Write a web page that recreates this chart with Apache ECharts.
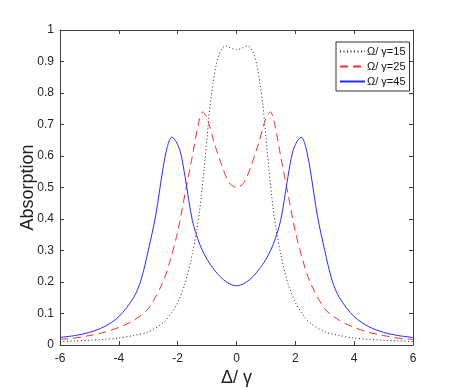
<!DOCTYPE html>
<html>
<head>
<meta charset="utf-8">
<script src="https://cdn.jsdelivr.net/npm/echarts@6/dist/echarts.min.js"></script>
<style>
  html, body { margin: 0; padding: 0; background: #fff; }
  #main { width: 457px; height: 388px; }
</style>
</head>
<body>
<div id="main"></div>
<script>
// values
const xTicks = [-6, -4, -2, 0, 2, 4, 6];
const yTicks = [0, 0.1, 0.2, 0.3, 0.4, 0.5, 0.6, 0.7, 0.8, 0.9, 1];

const names = ["Ω/ γ=15", "Ω/ γ=25", "Ω/ γ=45"];

const x15 = [-6, -5.5, -5, -4.5, -4, -3.5, -3, -2.5, -2.25, -2, -1.75, -1.5, -1.35, -1.25, -1.1, -1, -0.9, -0.8, -0.7, -0.6, -0.5, -0.37, -0.2, 0,
             0.2, 0.37, 0.5, 0.6, 0.7, 0.8, 0.9, 1, 1.1, 1.25, 1.35, 1.5, 1.75, 2, 2.25, 2.5, 3, 3.5, 4, 4.5, 5, 5.5, 6];
const y15 = [0.011, 0.013, 0.015, 0.018, 0.022, 0.03, 0.042, 0.07, 0.097, 0.135, 0.195, 0.29, 0.365, 0.43, 0.56, 0.66, 0.76, 0.83, 0.885, 0.92, 0.94, 0.95, 0.943, 0.937,
             0.943, 0.95, 0.94, 0.92, 0.885, 0.83, 0.76, 0.66, 0.56, 0.43, 0.365, 0.29, 0.195, 0.135, 0.097, 0.07, 0.042, 0.03, 0.022, 0.018, 0.015, 0.013, 0.011];

const x25 = [-6, -5.5, -5, -4.5, -4, -3.5, -3, -2.5, -2.25, -2, -1.75, -1.5, -1.3, -1.15, -1, -0.75, -0.5, -0.25, 0,
             0.25, 0.5, 0.75, 1, 1.15, 1.3, 1.5, 1.75, 2, 2.25, 2.5, 3, 3.5, 4, 4.5, 5, 5.5, 6];
const y25 = [0.018, 0.022, 0.03, 0.04, 0.056, 0.078, 0.115, 0.2, 0.27, 0.36, 0.48, 0.6, 0.7, 0.74, 0.72, 0.64, 0.57, 0.515, 0.5,
             0.515, 0.57, 0.64, 0.72, 0.74, 0.7, 0.6, 0.48, 0.36, 0.27, 0.2, 0.115, 0.078, 0.056, 0.04, 0.03, 0.022, 0.018];

const x45 = [-6, -5.5, -5, -4.5, -4, -3.5, -3.25, -3, -2.75, -2.5, -2.35, -2.2, -2.05, -1.9, -1.75, -1.5, -1.25, -1, -0.75, -0.5, -0.25, 0,
             0.25, 0.5, 0.75, 1, 1.25, 1.5, 1.75, 1.9, 2.05, 2.2, 2.35, 2.5, 2.75, 3, 3.25, 3.5, 4, 4.5, 5, 5.5, 6];
const y45 = [0.024, 0.03, 0.04, 0.058, 0.09, 0.15, 0.205, 0.3, 0.41, 0.56, 0.63, 0.66, 0.645, 0.61, 0.535, 0.395, 0.32, 0.272, 0.238, 0.212, 0.195, 0.188,
             0.195, 0.212, 0.238, 0.272, 0.32, 0.395, 0.535, 0.61, 0.645, 0.66, 0.63, 0.56, 0.41, 0.3, 0.205, 0.15, 0.09, 0.058, 0.04, 0.03, 0.024];

const pairs = (xs, ys) => xs.map((x, i) => [x, ys[i]]);

const chart = echarts.init(document.getElementById("main"));
const font = "Liberation Sans, Arial, sans-serif";
const frame = "#404040";

const tickAxis = {
    axisLine: { show: true, onZero: false, lineStyle: { color: frame, width: 1 } },
    axisTick: { show: true, inside: true, length: 4, lineStyle: { color: frame } },
    splitLine: { show: false },
};

chart.setOption({
    animation: false,
    backgroundColor: "#fff",
    grid: { left: 60, right: 44, top: 30, bottom: 43, outerBoundsMode: "none", containLabel: false },
    legend: {
        orient: "vertical",
        left: 336,
        top: 42,
        data: names,
        itemWidth: 25,
        itemHeight: 8,
        itemGap: 4,
        padding: [4, 4, 4, 3],
        borderColor: "#333",
        borderWidth: 1,
        backgroundColor: "#fff",
        itemStyle: { opacity: 0 },
        textStyle: { fontFamily: font, fontSize: 11, color: "#111", padding: [0, 0, 0, -3] },
    },
    xAxis: [
        Object.assign({}, tickAxis, {
            type: "value", min: -6, max: 6, interval: 2,
            name: "Δ/ γ", nameLocation: "middle", nameGap: 24, nameMoveOverlap: false,
            nameTextStyle: { fontFamily: font, fontSize: 18, color: "#222" },
            axisLabel: { fontFamily: font, fontSize: 12, color: "#262626", margin: 8,
                formatter: (v) => xTicks.includes(v) ? String(v) : "" },
        }),
        Object.assign({}, tickAxis, {
            type: "value", position: "top", min: -6, max: 6, interval: 2,
            axisLabel: { show: false },
        }),
    ],
    yAxis: [
        Object.assign({}, tickAxis, {
            type: "value", min: 0, max: 1, interval: 0.1,
            name: "Absorption", nameLocation: "middle", nameGap: 23, nameMoveOverlap: false,
            nameTextStyle: { fontFamily: font, fontSize: 18, color: "#222" },
            axisLabel: { fontFamily: font, fontSize: 12, color: "#262626", margin: 6,
                formatter: (v) => {
                    const t = yTicks.find((k) => Math.abs(k - v) < 1e-6);
                    return t === undefined ? "" : String(t);
                } },
        }),
        Object.assign({}, tickAxis, {
            type: "value", position: "right", min: 0, max: 1, interval: 0.1,
            axisLabel: { show: false },
        }),
    ],
    series: [
        {
            name: names[0], type: "line", showSymbol: false, symbol: "none", smooth: 0.3,
            data: pairs(x15, y15),
            lineStyle: { color: "#222", width: 1, type: [1, 2.5] },
            itemStyle: { color: "#222" },
        },
        {
            name: names[1], type: "line", showSymbol: false, symbol: "none", smooth: 0.3,
            data: pairs(x25, y25),
            lineStyle: { color: "#ff2a2a", width: 1, type: [8, 5] },
            itemStyle: { color: "#ff2a2a" },
        },
        {
            name: names[2], type: "line", showSymbol: false, symbol: "none", smooth: 0.3,
            data: pairs(x45, y45),
            lineStyle: { color: "#2a2aff", width: 1 },
            itemStyle: { color: "#2a2aff" },
        },
    ],
});
</script>
</body>
</html>
